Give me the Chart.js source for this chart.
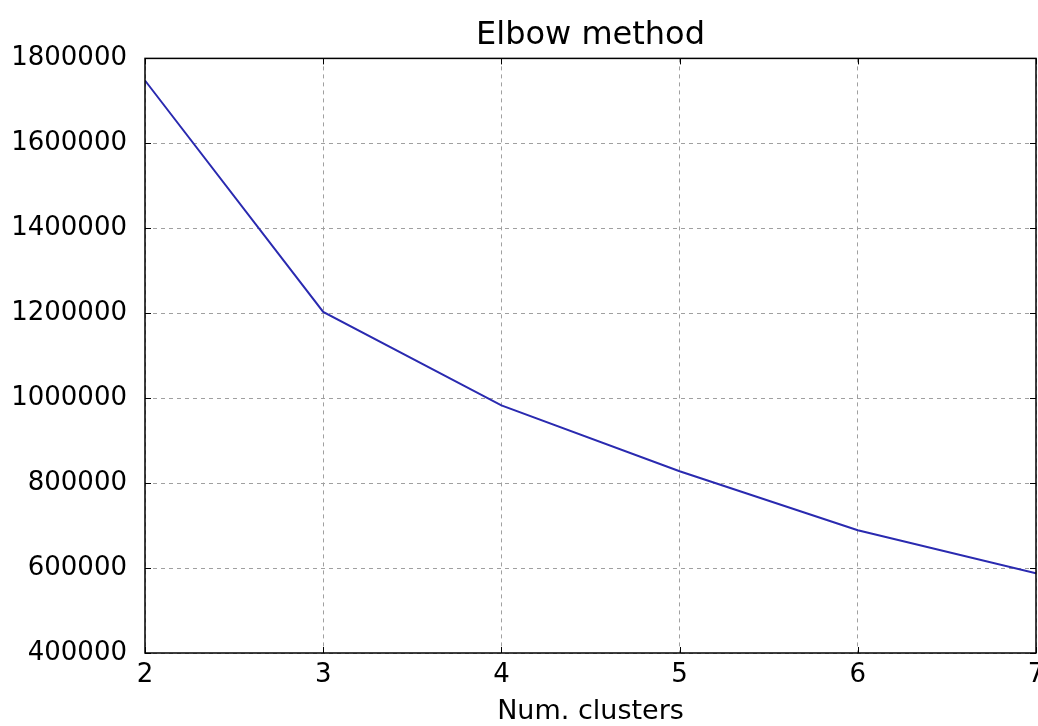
<!DOCTYPE html>
<html>
<head>
<meta charset="utf-8">
<title>Elbow method</title>
<script src="https://cdn.jsdelivr.net/npm/chart.js@4.4.1/dist/chart.umd.min.js"></script>
<style>
  html, body { margin: 0; padding: 0; background: #ffffff; }
  #chart { display: block; }
</style>
</head>
<body>
<canvas id="chart" width="1038" height="726"></canvas>
<script>
// values
const clusters = [2, 3, 4, 5, 6, 7];
const inertia = [1748000, 1203000, 983000, 828000, 689000, 588000];
const yTicks = [400000, 600000, 800000, 1000000, 1200000, 1400000, 1600000, 1800000];

const FONT = "'DejaVu Sans', sans-serif";

// black box round the plot, with small inward ticks like matplotlib
const frame = {
  id: "frame",
  afterDatasetsDraw(chart) {
    const { ctx, chartArea: a, scales } = chart;
    ctx.save();
    ctx.strokeStyle = "#000000";
    ctx.lineWidth = 1;
    scales.y.ticks.forEach((t) => {
      const py = Math.round(scales.y.getPixelForValue(t.value)) + 0.5;
      ctx.beginPath();
      ctx.moveTo(a.left, py);
      ctx.lineTo(a.left + 6, py);
      ctx.moveTo(a.right, py);
      ctx.lineTo(a.right - 6, py);
      ctx.stroke();
    });
    scales.x.ticks.forEach((t) => {
      const px = Math.round(scales.x.getPixelForValue(t.value)) + 0.5;
      ctx.beginPath();
      ctx.moveTo(px, a.bottom);
      ctx.lineTo(px, a.bottom - 6);
      ctx.moveTo(px, a.top);
      ctx.lineTo(px, a.top + 6);
      ctx.stroke();
    });
    ctx.lineWidth = 1.5;
    ctx.strokeRect(a.left, a.top, a.right - a.left, a.bottom - a.top);
    ctx.restore();
  },
};

const ctx = document.getElementById("chart").getContext("2d");
new Chart(ctx, {
  type: "line",
  data: {
    datasets: [
      {
        label: "inertia",
        data: clusters.map((k, i) => ({ x: k, y: inertia[i] })),
        borderColor: "#2a2ab0",
        borderWidth: 2,
        pointRadius: 0,
        tension: 0,
        fill: false,
      },
    ],
  },
  options: {
    responsive: false,
    animation: false,
    devicePixelRatio: 1,
    layout: { padding: { left: 0, right: 2, top: 0, bottom: 0 } },
    plugins: {
      legend: { display: false },
      tooltip: { enabled: false },
      title: {
        display: true,
        text: "Elbow method",
        fullSize: false,
        color: "#000000",
        font: { family: FONT, size: 32, weight: "normal", lineHeight: 1.2 },
        padding: { top: 16, bottom: 4 },
      },
    },
    scales: {
      x: {
        type: "linear",
        min: clusters[0],
        max: clusters[clusters.length - 1],
        afterFit(scale) {
          scale.height = 73;
          scale.paddingLeft = 0;
          scale.paddingRight = 0;
        },
        ticks: {
          stepSize: 1,
          color: "#000000",
          padding: 7,
          font: { family: FONT, size: 26 },
        },
        grid: {
          color: "#a0a0a0",
          lineWidth: 1,
          drawTicks: false,
        },
        border: { display: false, dash: [4, 4] },
        title: {
          display: true,
          text: "Num. clusters",
          color: "#000000",
          font: { family: FONT, size: 27, lineHeight: 1 },
          padding: { top: 0, bottom: 1 },
        },
      },
      y: {
        min: yTicks[0],
        max: yTicks[yTicks.length - 1],
        afterFit(scale) {
          scale.width = 145;
        },
        afterBuildTicks(scale) {
          scale.ticks = yTicks.map((v) => ({ value: v }));
        },
        ticks: {
          color: "#000000",
          padding: 18,
          font: { family: FONT, size: 26 },
          callback: (v) => String(v),
        },
        grid: {
          color: "#a0a0a0",
          lineWidth: 1,
          drawTicks: false,
        },
        border: { display: false, dash: [4, 4] },
      },
    },
  },
  plugins: [frame],
});
</script>
</body>
</html>
